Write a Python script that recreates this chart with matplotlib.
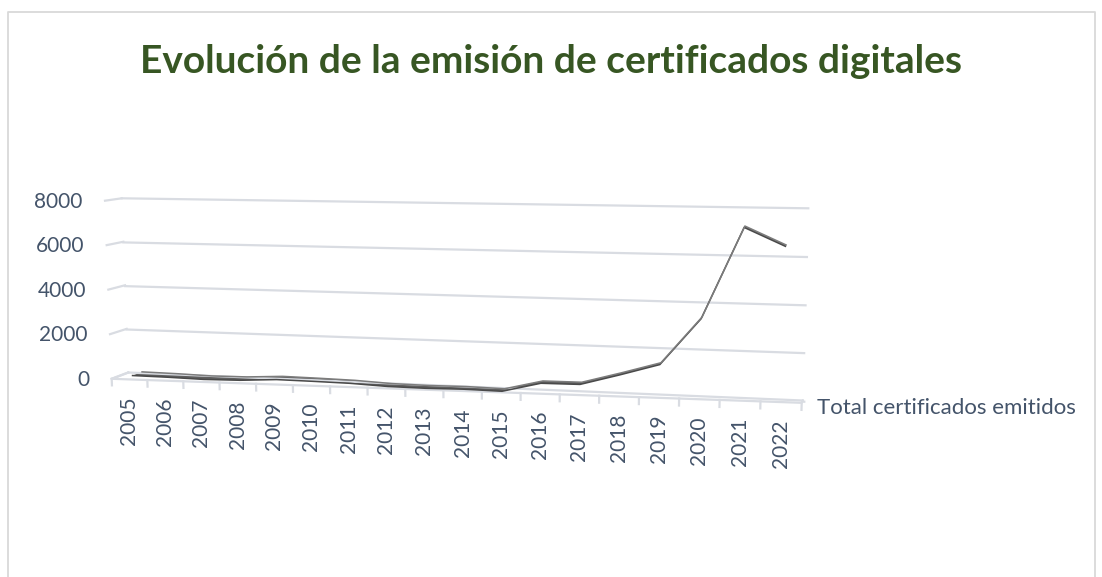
import numpy as np
import matplotlib
matplotlib.use("Agg")
import matplotlib.pyplot as plt
import matplotlib.transforms as mtransforms

# data
years = ["2005", "2006", "2007", "2008", "2009", "2010", "2011", "2012", "2013",
         "2014", "2015", "2016", "2017", "2018", "2019", "2020", "2021", "2022"]
certificados = [120, 100, 60, 80, 170, 150, 120, 40, 20, 40, 10,
                420, 430, 900, 1400, 3400, 7250, 6500]
y_ticks = [0, 2000, 4000, 6000, 8000]
series_name = "Total certificados emitidos"
title = "Evolución de la emisión de certificados digitales"

TEXT = "#44546A"
GRID = "#d9dce2"
FONT = ["Lato", "DejaVu Sans"]

n_cat = len(years)
v_max = y_ticks[-1]

# box corners in pixels (x, y-down): front (depth 0) and back (depth 1)
front = {"l0": (111.7, 378.8), "r0": (801.7, 402.8), "r1": (807.2, 210.6), "l1": (105.0, 200.7)}
back = {"l0": (128.3, 372.5), "r0": (802.8, 400.5), "r1": (808.3, 208.3), "l1": (121.7, 198.3)}


class QuadMap(mtransforms.Transform):
    """Projective map of a rectangle onto a quadrilateral."""
    input_dims = 2
    output_dims = 2
    has_inverse = True

    def __init__(self, src, dst):
        super().__init__()
        self.src, self.dst = src, dst
        rows, rhs = [], []
        for (x, y), (X, Y) in zip(src, dst):
            rows.append([x, y, 1, 0, 0, 0, -X * x, -X * y])
            rhs.append(X)
            rows.append([0, 0, 0, x, y, 1, -Y * x, -Y * y])
            rhs.append(Y)
        h = np.linalg.solve(np.array(rows, float), np.array(rhs, float))
        self.H = np.append(h, 1.0).reshape(3, 3)

    def transform_non_affine(self, values):
        values = np.asarray(values, float)
        p = np.column_stack([values, np.ones(len(values))]) @ self.H.T
        return p[:, :2] / p[:, 2:3]

    def inverted(self):
        return QuadMap(self.dst, self.src)


def lerp(a, b, t):
    return ((1 - t) * a[0] + t * b[0], (1 - t) * a[1] + t * b[1])


def plane_map(d):
    # (category, value) at depth d
    c = {k: lerp(front[k], back[k], d) for k in front}
    src = [(0, 0), (n_cat, 0), (n_cat, v_max), (0, v_max)]
    return QuadMap(src, [c["l0"], c["r0"], c["r1"], c["l1"]])


wall_map = QuadMap([(0, 0), (1, 0), (1, v_max), (0, v_max)],
                   [front["l0"], back["l0"], back["l1"], front["l1"]])
floor_map = QuadMap([(0, 0), (n_cat, 0), (n_cat, 1), (0, 1)],
                    [front["l0"], front["r0"], back["r0"], back["l0"]])

fig = plt.figure(figsize=(11.02, 5.77), dpi=100)
ax = fig.add_axes([0, 0, 1, 1])
ax.set_autoscale_on(False)
ax.set_xlim(0, 1102)
ax.set_ylim(577, 0)
ax.axis("off")

back_tf = plane_map(1.0) + ax.transData
front_tf = plane_map(0.0) + ax.transData
wall_tf = wall_map + ax.transData
floor_tf = floor_map + ax.transData

# chart area border
ax.plot([8, 8, 1095, 1095], [590, 12, 12, 590], color="#d9d9d9", lw=1.3)

# gridlines on back wall and left wall
for v in y_ticks:
    ax.plot([0, n_cat], [v, v], color=GRID, lw=1.6, transform=back_tf)
    ax.plot([0, 1], [v, v], color=GRID, lw=1.6, transform=wall_tf)

# floor outline
ax.plot([0, 0, n_cat, n_cat], [1, 0, 0, 1], color=GRID, lw=1.6, transform=floor_tf)

# category ticks on the front edge
for i in range(n_cat + 1):
    ax.plot([i, i], [0, -300], color=GRID, lw=1.6, transform=front_tf)
# depth axis tick
ax.plot([n_cat, n_cat + 0.16], [0.5, 0.5], color=GRID, lw=1.6, transform=floor_tf)

# series ribbon
u = np.arange(n_cat) + 0.5
pts = np.column_stack([u, certificados])
edge_a = plane_map(0.2).transform(pts)
edge_b = plane_map(0.8).transform(pts)
ribbon = np.vstack([edge_a, edge_b[::-1]])
ax.fill(ribbon[:, 0], ribbon[:, 1], color="#5f5f5f", lw=0)
ax.plot(edge_a[:, 0], edge_a[:, 1], color="#4a4a4a", lw=1.1)
ax.plot(edge_b[:, 0], edge_b[:, 1], color="#7c7c7c", lw=1.1)

# value labels on the left wall front edge
for v in y_ticks:
    ax.annotate(f"{v}", xy=(0, v), xycoords=wall_tf, xytext=(-22.5, -7),
                textcoords="offset pixels", ha="right", va="baseline",
                fontsize=15, color=TEXT, family=FONT)

# category labels
for i, lab in enumerate(years):
    ax.annotate(lab, xy=(i + 0.5, 0), xycoords=front_tf, xytext=(0, -17),
                textcoords="offset pixels", ha="center", va="top", rotation=90,
                fontsize=15, color=TEXT, family=FONT)

# series (depth axis) label
ax.annotate(series_name, xy=(n_cat, 0.5), xycoords=floor_tf, xytext=(15, -12.5),
            textcoords="offset pixels", ha="left", va="baseline",
            fontsize=16, color=TEXT, family=FONT)

ax.text(551, 72.7, title, ha="center", va="baseline", fontsize=28,
        fontweight="bold", color="#375623", family=FONT)

fig.savefig("out.png", dpi=100)
